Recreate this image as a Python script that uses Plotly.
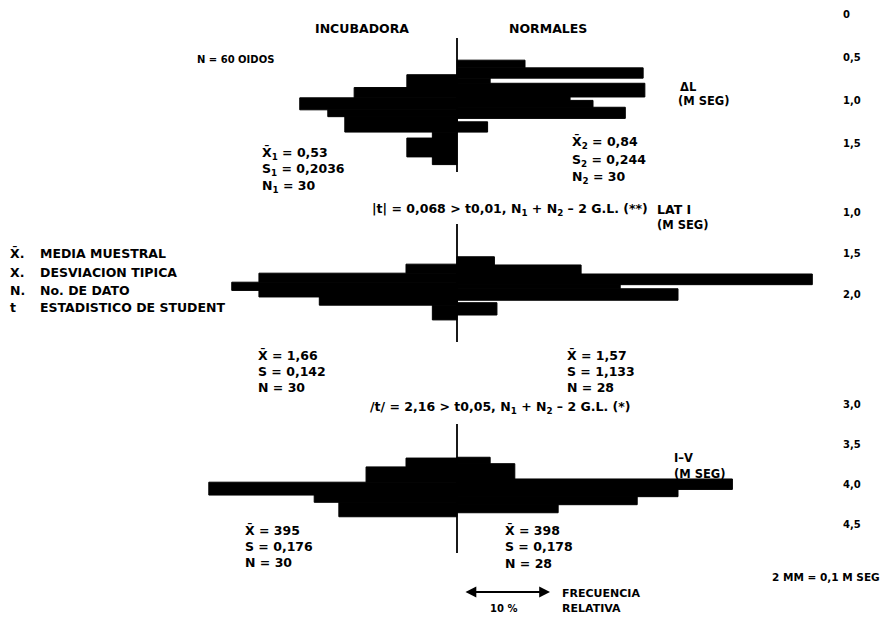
import plotly.graph_objects as go

# ---------------- data ----------------
# relative frequency (%) per latency interval (ms); edges are interval limits
incub_dl_edges = [0.70, 0.85, 0.97, 1.11, 1.19, 1.37, 1.44, 1.66, 1.75]
incub_dl_freq = [5.9, 12.1, 18.5, 15.2, 13.2, 2.9, 5.9, 2.9]
norm_dl_edges = [0.53, 0.62, 0.74, 0.80, 0.96, 1.00, 1.08, 1.21, 1.25, 1.37]
norm_dl_freq = [8.0, 21.9, 3.9, 22.1, 13.3, 16.0, 19.8, 0.0, 3.6]

incub_lat_edges = [1.63, 1.74, 1.85, 1.95, 2.03, 2.13, 2.31]
incub_lat_freq = [6.0, 23.3, 26.5, 23.3, 16.2, 2.9]
norm_lat_edges = [1.54, 1.64, 1.75, 1.88, 1.93, 2.07, 2.10, 2.25]
norm_lat_freq = [4.4, 14.6, 41.8, 19.2, 26.0, 0.0, 4.7]

incub_iv_edges = [3.67, 3.78, 3.97, 4.13, 4.22, 4.40]
incub_iv_freq = [6.0, 10.7, 29.2, 16.8, 13.9]
norm_iv_edges = [3.66, 3.74, 3.93, 4.06, 4.15, 4.25, 4.35]
norm_iv_freq = [3.9, 6.8, 32.4, 26.0, 21.2, 11.9]

dl_ticks = [0, 0.5, 1.0, 1.5]
dl_ticktext = ["0", "0,5", "1,0", "1,5"]
lat_ticks = [1.0, 1.5, 2.0]
lat_ticktext = ["1,0", "1,5", "2,0"]
iv_ticks = [3.0, 3.5, 4.0, 4.5]
iv_ticktext = ["3,0", "3,5", "4,0", "4,5"]

# ---------------- layout geometry ----------------
PAGE_W, PAGE_H = 892, 624
OFF = 8                      # page body margin
W, H = PAGE_W - 2 * OFF, PAGE_H - 2 * OFF
ZERO_PX = 457.0              # page px of the 0 % line
PX_PER_PCT = 8.5
X_END_PX = 842.0
FONT = "DejaVu Sans"


def fx(px):
    return (px - OFF) / W


def fy(py):
    return 1 - (py - OFF) / H


# per panel: page px = a + b*ms ; domain (top px, bottom px) ; axis line (top px, bottom px)
panels = [
    dict(a=14.8, b=85.6, dom=(8, 185), line=(38, 172),
         left=(incub_dl_edges, incub_dl_freq), right=(norm_dl_edges, norm_dl_freq),
         ticks=dl_ticks, ticktext=dl_ticktext),
    dict(a=130.5, b=82.0, dom=(190, 350), line=(224, 342),
         left=(incub_lat_edges, incub_lat_freq), right=(norm_lat_edges, norm_lat_freq),
         ticks=lat_ticks, ticktext=lat_ticktext),
    dict(a=163.0, b=80.4, dom=(380, 575), line=(424, 553),
         left=(incub_iv_edges, incub_iv_freq), right=(norm_iv_edges, norm_iv_freq),
         ticks=iv_ticks, ticktext=iv_ticktext),
]

xr = [(OFF - ZERO_PX) / PX_PER_PCT, (X_END_PX - ZERO_PX) / PX_PER_PCT]

fig = go.Figure()
layout = dict(
    width=W, height=H, margin=dict(l=0, r=0, t=0, b=0),
    paper_bgcolor="white", plot_bgcolor="rgba(0,0,0,0)",
    showlegend=False, barmode="overlay",
    font=dict(family=FONT, size=10, color="black"),
)
shapes = []

for i, p in enumerate(panels):
    n = "" if i == 0 else str(i + 1)
    xa, ya = "x" + n, "y" + n
    for side, (edges, freq) in (("l", p["left"]), ("r", p["right"])):
        centers = [(edges[k] + edges[k + 1]) / 2 for k in range(len(freq))]
        widths = [edges[k + 1] - edges[k] for k in range(len(freq))]
        xs = [-f if side == "l" else f for f in freq]
        fig.add_trace(go.Bar(
            x=xs, y=centers, width=widths, orientation="h",
            marker=dict(color="black", line=dict(width=1.0, color="black")),
            xaxis=xa, yaxis=ya, hoverinfo="skip",
        ))
    top_px, bot_px = p["dom"]
    ms_top = (top_px - p["a"]) / p["b"]
    ms_bot = (bot_px - p["a"]) / p["b"]
    layout["xaxis" + n] = dict(
        domain=[0, fx(X_END_PX)], range=xr, anchor=ya,
        showgrid=False, zeroline=False, showticklabels=False, ticks="", showline=False,
    )
    layout["yaxis" + n] = dict(
        domain=[fy(bot_px), fy(top_px)], range=[ms_bot, ms_top], anchor=xa,
        side="right", showgrid=False, zeroline=False, showline=False, ticks="",
        tickvals=p["ticks"], ticktext=["<b>%s</b>" % t for t in p["ticktext"]],
        tickfont=dict(family=FONT, size=10, color="black"),
    )
    l0, l1 = p["line"]
    shapes.append(dict(
        type="line", xref=xa, yref=ya, x0=0, x1=0,
        y0=(l0 - p["a"]) / p["b"], y1=(l1 - p["a"]) / p["b"],
        line=dict(color="black", width=1.8),
    ))

layout["shapes"] = shapes


def ann(text, px, py, anchor="left", size=12.5):
    return dict(
        text="<b>%s</b>" % text, x=fx(max(px, OFF)), y=fy(py), xref="paper", yref="paper",
        xanchor=anchor, yanchor="middle", showarrow=False,
        font=dict(family=FONT, size=size, color="black"),
    )


XB = "X\u0304"
annotations = [
    ann("INCUBADORA", 362, 28, "center"),
    ann("NORMALES", 548, 28, "center"),
    ann("N = 60 OIDOS", 195, 60, size=10),
    ann("\u0394L", 678, 87, size=11.5),
    ann("(M SEG)", 676, 101, size=11.5),
    ann(XB + "<sub>1</sub> = 0,53", 260, 153),
    ann("S<sub>1</sub> = 0,2036", 260, 169),
    ann("N<sub>1</sub> = 30", 260, 186),
    ann(XB + "<sub>2</sub> = 0,84", 570, 142),
    ann("S<sub>2</sub> = 0,244", 570, 160),
    ann("N<sub>2</sub> = 30", 570, 178),
    ann("|t| = 0,068 > t0,01, N<sub>1</sub> + N<sub>2</sub> \u2013 2 G.L. (**)", 370, 209),
    ann("LAT I", 655, 209),
    ann("(M SEG)", 655, 225, size=11.5),
    ann(XB + ".", 3, 254),
    ann("MEDIA MUESTRAL", 38, 254),
    ann("X.", 3, 272),
    ann("DESVIACION TIPICA", 38, 272),
    ann("N.", 3, 290),
    ann("No. DE DATO", 38, 290),
    ann("t", 3, 307),
    ann("ESTADISTICO DE STUDENT", 38, 307),
    ann(XB + " = 1,66", 256, 355),
    ann("S = 0,142", 256, 371),
    ann("N = 30", 256, 387),
    ann(XB + " = 1,57", 565, 355),
    ann("S = 1,133", 565, 371),
    ann("N = 28", 565, 387),
    ann("/t/ = 2,16 > t0,05, N<sub>1</sub> + N<sub>2</sub> \u2013 2 G.L. (*)", 368, 407),
    ann("I\u2013V", 672, 458, size=11.5),
    ann("(M SEG)", 672, 474, size=11.5),
    ann(XB + " = 395", 243, 530),
    ann("S = 0,176", 243, 546),
    ann("N = 30", 243, 562),
    ann(XB + " = 398", 503, 530),
    ann("S = 0,178", 503, 546),
    ann("N = 28", 503, 563),
    ann("2 MM = 0,1 M SEG", 770, 577, size=10.5),
    ann("FRECUENCIA", 560, 593, size=11),
    ann("RELATIVA", 560, 608, size=11),
    ann("10 %", 503, 608, "center", size=10),
    dict(x=fx(550), y=fy(592), xref="paper", yref="paper", ax=-86, ay=0,
         text="", showarrow=True, arrowhead=2, arrowside="end+start",
         arrowsize=1.2, arrowwidth=1.8, arrowcolor="black"),
]
layout["annotations"] = annotations

fig.update_layout(**layout)
fig.write_html("out.html")
